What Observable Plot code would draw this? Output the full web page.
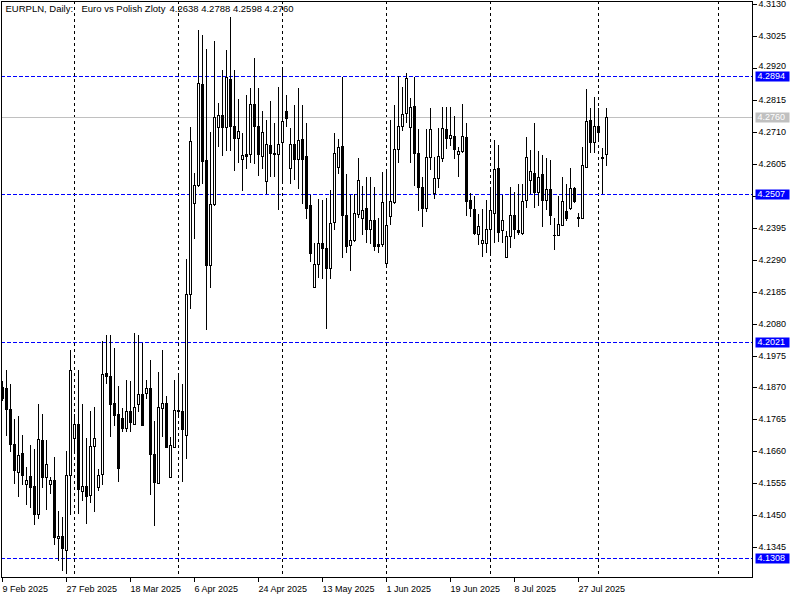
<!DOCTYPE html>
<html>
<head>
<meta charset="utf-8">
<script src="https://cdn.jsdelivr.net/npm/d3@7"></script>
<script src="https://cdn.jsdelivr.net/npm/@observablehq/plot@0.6"></script>
<style>
  html, body { margin: 0; padding: 0; background: #fff; }
  svg { display: block; }
</style>
</head>
<body>
<div id="chart"></div>
<script>
// ---- Data (EURPLN daily, one entry per bar) ----
const opens = [
4.1870,4.1868,4.1798,4.1683,4.1593,4.1653,4.1553,4.1578,4.1545,4.1454,
4.1697,4.1576,4.1554,4.1567,4.1375,4.1380,4.1336,4.1581,4.1703,4.1749,
4.1531,4.1545,4.1518,4.1677,4.1543,4.1584,4.1918,4.1908,4.1818,4.1782,
4.1769,4.1736,4.1793,4.1751,4.1817,4.1848,4.1851,4.1868,4.1650,4.1556,
4.1804,4.1818,4.1575,4.1675,4.1793,4.1793,4.1713,4.2178,4.2478,4.2536,
4.2869,4.2618,4.2272,4.2475,4.2726,4.2765,4.2726,4.2884,4.2731,4.2692,
4.2620,4.2638,4.2638,4.2802,4.2731,4.2631,4.2550,4.2668,4.2640,4.2637,
4.2676,4.2780,4.2591,4.2670,4.2623,4.2686,4.2631,4.2470,4.2200,4.2277,
4.2345,4.2330,4.2264,4.2414,4.2594,4.2664,4.2439,4.2340,4.2356,4.2442,
4.2429,4.2462,4.2392,4.2422,4.2343,4.2343,4.2280,4.2433,4.2480,4.2653,
4.2730,4.2772,4.2726,4.2796,4.2640,4.2530,4.2462,4.2627,4.2511,4.2558,
4.2625,4.2719,4.2692,4.2697,4.2637,4.2649,4.2695,4.2486,4.2456,4.2376,
4.2345,4.2345,4.2393,4.2444,4.2591,4.2387,4.2299,4.2367,4.2439,4.2389,
4.2378,4.2486,4.2554,4.2577,4.2514,4.2572,4.2488,4.2524,4.2371,4.2371,
4.2404,4.2451,4.2461,4.2527,4.2428,4.2429,4.2596,4.2750,4.2679,4.2731,
4.2626,4.2638];
const highs = [
4.1890,4.1927,4.1883,4.1768,4.1776,4.1714,4.1608,4.1680,4.1668,4.1815,
4.1784,4.1697,4.1575,4.1641,4.1463,4.1443,4.1661,4.1993,4.1782,4.1927,
4.1815,4.1703,4.1793,4.1806,4.1603,4.2022,4.2044,4.2044,4.2000,4.1875,
4.1804,4.1894,4.1892,4.2049,4.2044,4.2015,4.1894,4.1960,4.1760,4.1922,
4.1993,4.1842,4.1707,4.1895,4.1910,4.1881,4.2293,4.2726,4.2574,4.3047,
4.3031,4.2983,4.2712,4.3011,4.2805,4.2915,4.2981,4.3089,4.2915,4.2818,
4.2706,4.2832,4.2855,4.2953,4.2855,4.2778,4.2750,4.2811,4.2739,4.2858,
4.2921,4.2832,4.2723,4.2800,4.2855,4.2800,4.2739,4.2503,4.2344,4.2490,
4.2486,4.2492,4.2519,4.2708,4.2686,4.2893,4.2571,4.2503,4.2505,4.2624,
4.2532,4.2563,4.2563,4.2528,4.2426,4.2580,4.2585,4.2750,4.2800,4.2895,
4.2860,4.2904,4.2822,4.2893,4.2719,4.2563,4.2719,4.2788,4.2629,4.2725,
4.2792,4.2794,4.2792,4.2763,4.2662,4.2802,4.2741,4.2510,4.2500,4.2442,
4.2458,4.2486,4.2525,4.2684,4.2667,4.2502,4.2384,4.2528,4.2513,4.2539,
4.2541,4.2693,4.2651,4.2741,4.2649,4.2635,4.2624,4.2618,4.2426,4.2499,
4.2561,4.2541,4.2591,4.2530,4.2443,4.2662,4.2852,4.2789,4.2824,4.2790,
4.2657,4.2788];
const lows = [
4.1825,4.1710,4.1659,4.1553,4.1510,4.1549,4.1483,4.1474,4.1419,4.1439,
4.1540,4.1468,4.1520,4.1353,4.1298,4.1267,4.1257,4.1452,4.1660,4.1454,
4.1496,4.1421,4.1490,4.1461,4.1529,4.1549,4.1880,4.1708,4.1743,4.1560,
4.1722,4.1725,4.1722,4.1749,4.1788,4.1746,4.1832,4.1516,4.1416,4.1553,
4.1707,4.1672,4.1573,4.1672,4.1780,4.1560,4.1634,4.2129,4.2360,4.2530,
4.2541,4.2060,4.2196,4.2466,4.2662,4.2632,4.2648,4.2648,4.2583,4.2610,
4.2517,4.2590,4.2609,4.2605,4.2565,4.2588,4.2506,4.2563,4.2563,4.2455,
4.2541,4.2728,4.2539,4.2554,4.2524,4.2475,4.2425,4.2282,4.2196,4.2231,
4.2228,4.2064,4.2228,4.2387,4.2571,4.2297,4.2312,4.2253,4.2348,4.2428,
4.2371,4.2345,4.2341,4.2319,4.2312,4.2332,4.2271,4.2403,4.2473,4.2607,
4.2714,4.2739,4.2607,4.2532,4.2451,4.2398,4.2448,4.2585,4.2491,4.2525,
4.2612,4.2653,4.2664,4.2620,4.2561,4.2642,4.2433,4.2431,4.2370,4.2338,
4.2299,4.2312,4.2301,4.2345,4.2349,4.2345,4.2299,4.2330,4.2360,4.2370,
4.2370,4.2459,4.2506,4.2459,4.2466,4.2398,4.2453,4.2404,4.2321,4.2367,
4.2400,4.2418,4.2455,4.2477,4.2397,4.2425,4.2594,4.2640,4.2642,4.2680,
4.2507,4.2598];
const closes = [
4.1837,4.1798,4.1683,4.1597,4.1648,4.1581,4.1567,4.1544,4.1454,4.1700,
4.1576,4.1617,4.1567,4.1378,4.1383,4.1342,4.1581,4.1927,4.1749,4.1536,
4.1545,4.1514,4.1677,4.1703,4.1581,4.1914,4.1907,4.1817,4.1781,4.1606,
4.1736,4.1793,4.1758,4.1806,4.1848,4.1746,4.1868,4.1650,4.1560,4.1807,
4.1818,4.1675,4.1681,4.1795,4.1795,4.1733,4.2178,4.2682,4.2536,4.2871,
4.2616,4.2272,4.2475,4.2759,4.2765,4.2728,4.2891,4.2731,4.2692,4.2714,
4.2635,4.2633,4.2802,4.2731,4.2637,4.2709,4.2670,4.2640,4.2637,4.2670,
4.2747,4.2755,4.2670,4.2623,4.2684,4.2623,4.2462,4.2312,4.2277,4.2346,
4.2330,4.2264,4.2412,4.2640,4.2662,4.2439,4.2335,4.2356,4.2445,4.2552,
4.2455,4.2392,4.2422,4.2337,4.2337,4.2480,4.2406,4.2483,4.2653,4.2730,
4.2770,4.2888,4.2792,4.2640,4.2530,4.2459,4.2627,4.2719,4.2560,4.2630,
4.2722,4.2692,4.2700,4.2653,4.2648,4.2697,4.2484,4.2459,4.2378,4.2400,
4.2354,4.2393,4.2453,4.2588,4.2382,4.2422,4.2367,4.2439,4.2393,4.2381,
4.2483,4.2627,4.2582,4.2514,4.2561,4.2488,4.2524,4.2439,4.2372,4.2407,
4.2483,4.2428,4.2527,4.2484,4.2430,4.2601,4.2748,4.2679,4.2730,4.2711,
4.2627,4.2760];

// x-axis labels (every 16th bar)
const dateLabelBars = [0, 16, 32, 48, 64, 80, 96, 112, 128, 144];
const dateLabels = ["9 Feb 2025", "27 Feb 2025", "18 Mar 2025", "6 Apr 2025", "24 Apr 2025",
                    "13 May 2025", "1 Jun 2025", "19 Jun 2025", "8 Jul 2025", "27 Jul 2025"];
// first bar of each month (vertical separators)
const monthStartBars = [18, 44, 70, 96, 122, 149, 179];
// horizontal levels
const levelLines = [4.2894, 4.2507, 4.2021, 4.1308];
const bidPrice = [4.2760];
// price-axis ticks
const priceTicks = [4.3130, 4.3025, 4.2920, 4.2815, 4.2710, 4.2605, 4.2500, 4.2395, 4.2290,
                    4.2185, 4.2080, 4.1975, 4.1870, 4.1765, 4.1660, 4.1555, 4.1450, 4.1345];
const hiddenTickLabels = [4.2500];   // fully covered by the 4.2507 box
const raisedTickLabels = [4.2920];   // sits just above the 4.2894 box
const headerParts = ["EURPLN, Daily:", "Euro vs Polish Zloty", "4.2638 4.2788 4.2598 4.2760"];

// ---- Build ----
const candles = opens.map((o, i) => ({i, open: o, high: highs[i], low: lows[i], close: closes[i]}));
const bulls = candles.filter(d => d.close >= d.open);
const bears = candles.filter(d => d.close < d.open);
const labelByBar = new Map(dateLabelBars.map((b, k) => [b, dateLabels[k]]));
const skipLabel = new Set([...hiddenTickLabels, ...raisedTickLabels]);

const boxSymbol = { draw(ctx) { ctx.rect(-17, -5, 34, 10); } };
const FONT = "'Liberation Sans', Arial, sans-serif";

const chart = Plot.plot({
  width: 800,
  height: 600,
  marginLeft: 1,
  marginRight: 48,
  marginTop: 1,
  marginBottom: 23,
  style: {fontFamily: FONT, fontSize: "9px", color: "black", background: "white", overflow: "visible"},
  x: {type: "linear", domain: [-0.25, 187.5], round: true, axis: null},
  y: {type: "linear", domain: [4.124663, 4.314137], round: true, axis: null},
  marks: [
    Plot.ruleX(monthStartBars, {stroke: "black", strokeWidth: 1, strokeDasharray: "3,3"}),
    Plot.ruleY(levelLines, {stroke: "#0000ff", strokeWidth: 1, strokeDasharray: "4,2"}),
    Plot.ruleY(bidPrice, {stroke: "#c0c0c0", strokeWidth: 1}),
    // wicks
    Plot.ruleX(candles, {x: "i", y1: "low", y2: "high", stroke: "black", strokeWidth: 1}),
    // bodies
    Plot.rect(bulls, {x1: d => d.i - 0.25, x2: d => d.i + 0.25, y1: "open", y2: "close",
                      dx: 0.5, dy: 0.5, fill: "white", stroke: "black", strokeWidth: 1}),
    Plot.rect(bears, {x1: d => d.i - 0.25, x2: d => d.i + 0.25, y1: "close", y2: "open",
                      dx: 0.5, dy: 0.5, fill: "black", stroke: "black", strokeWidth: 1}),
    Plot.ruleY(candles, {y: "open", x1: d => d.i - 0.25, x2: d => d.i + 0.5, stroke: "black", strokeWidth: 1}),
    Plot.ruleY(candles, {y: "close", x1: d => d.i - 0.25, x2: d => d.i + 0.5, stroke: "black", strokeWidth: 1}),
    Plot.frame({stroke: "black", strokeWidth: 1}),
    // price axis
    Plot.axisY(priceTicks, {anchor: "right", label: null, tickSize: 4, tickPadding: 2,
                            tickFormat: d => skipLabel.has(d) ? "" : d.toFixed(4), fontSize: 9, fill: "black"}),
    Plot.text(raisedTickLabels, {y: d => d, frameAnchor: "right", dx: 6, dy: -2, textAnchor: "start",
                                 text: d => d.toFixed(4), fill: "black", fontSize: 9}),
    // date axis
    Plot.axisX(dateLabelBars, {anchor: "bottom", label: null, tickSize: 5, tickPadding: 3, textAnchor: "start",
                               tickFormat: d => labelByBar.get(d), fontSize: 9, fill: "black"}),
    // level price boxes
    Plot.dot(levelLines, {y: d => d, frameAnchor: "right", dx: 20, symbol: boxSymbol, r: 5,
                          fill: "#0000ff", stroke: null}),
    Plot.text(levelLines, {y: d => d, frameAnchor: "right", dx: 5, textAnchor: "start",
                           text: d => d.toFixed(4), fill: "white", fontSize: 9}),
    Plot.dot(bidPrice, {y: d => d, frameAnchor: "right", dx: 20, symbol: boxSymbol, r: 5,
                        fill: "#c0c0c0", stroke: null}),
    Plot.text(bidPrice, {y: d => d, frameAnchor: "right", dx: 5, textAnchor: "start",
                         text: d => d.toFixed(4), fill: "white", fontSize: 9}),
    // header
    Plot.text([headerParts[0]], {frameAnchor: "top-left", dx: 4, dy: 4, textAnchor: "start",
                                 lineAnchor: "top", fill: "black", fontSize: 9.5}),
    Plot.text([headerParts[1]], {frameAnchor: "top-left", dx: 80, dy: 4, textAnchor: "start",
                                 lineAnchor: "top", fill: "black", fontSize: 9.5}),
    Plot.text([headerParts[2]], {frameAnchor: "top-left", dx: 168, dy: 4, textAnchor: "start",
                                 lineAnchor: "top", fill: "black", fontSize: 9.5})
  ]
});
document.getElementById("chart").appendChild(chart);
</script>
</body>
</html>
